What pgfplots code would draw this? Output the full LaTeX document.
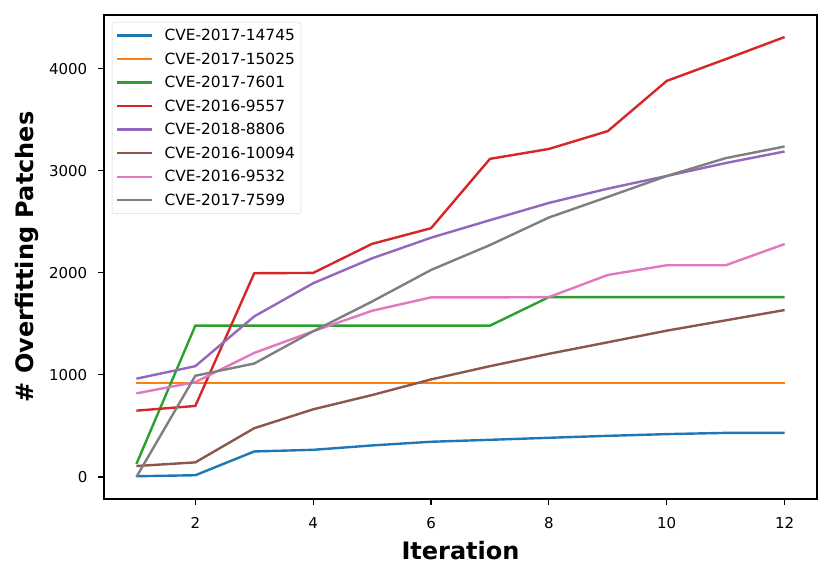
\documentclass[border=0pt]{standalone}
\usepackage{pgfplots}
\pgfplotsset{compat=1.18}
\usepackage{fontspec}
\setmainfont{DejaVu Sans}
\definecolor{c0}{HTML}{1F77B4}
\definecolor{c1}{HTML}{FF7F0E}
\definecolor{c2}{HTML}{2CA02C}
\definecolor{c3}{HTML}{D62728}
\definecolor{c4}{HTML}{9467BD}
\definecolor{c5}{HTML}{8C564B}
\definecolor{c6}{HTML}{E377C2}
\definecolor{c7}{HTML}{7F7F7F}
\begin{document}
\begin{tikzpicture}
\begin{axis}[
  name=ax,
  scale only axis,
  width=713bp, height=484bp,
  xmin=0.45, xmax=12.55,
  ymin=-216, ymax=4528,
  xtick={2,4,6,8,10,12},
  ytick={0,1000,2000,3000,4000},
  scaled ticks=false,
  /pgf/number format/1000 sep={},
  /pgf/number format/assume math mode=true,
  tick align=outside,
  major tick length=5.5bp,
  tick style={line width=1.1bp, black},
  axis line style={line width=1.1bp},
  xtick pos=bottom, ytick pos=left,
  ticklabel style={font=\fontsize{15bp}{18bp}\selectfont},
  xticklabel style={inner sep=0pt, anchor=north, yshift=-13bp},
  yticklabel style={inner sep=0pt, anchor=east, xshift=-11bp},
  xlabel={Iteration},
  ylabel={\# Overfitting Patches},
  label style={font=\fontsize{24bp}{28bp}\selectfont\bfseries},
  x label style={at={(axis description cs:0.5,-0.126)}, anchor=base},
  y label style={at={(axis description cs:-0.0982,0.5)}, anchor=base},
  legend style={at={(0,1)}, anchor=north west, xshift=8bp, yshift=-7bp,
    draw=black!15, rounded corners=2bp, fill=white, fill opacity=0.8, text opacity=1,
    font=\fontsize{15.4bp}{18bp}\selectfont, row sep=6.6bp, column sep=9bp,
    inner xsep=4bp, inner ysep=5bp},
  legend cell align=left,
  legend image code/.code={\draw[#1] (0bp,0bp) -- (35bp,0bp);},
]
\addplot[c0, line width=2.4bp] coordinates {(1,7)(2,17)(3,250)(4,266)(5,309)(6,345)(7,364)(8,384)(9,403)(10,420)(11,432)(12,432)};
\addlegendentry{CVE-2017-14745}
\addplot[c1, line width=2.4bp] coordinates {(1,920)(2,920)(3,920)(4,920)(5,920)(6,920)(7,920)(8,920)(9,920)(10,920)(11,920)(12,920)};
\addlegendentry{CVE-2017-15025}
\addplot[c2, line width=2.4bp] coordinates {(1,127)(2,1483)(3,1483)(4,1483)(5,1483)(6,1483)(7,1483)(8,1763)(9,1763)(10,1763)(11,1763)(12,1763)};
\addlegendentry{CVE-2017-7601}
\addplot[c3, line width=2.4bp] coordinates {(1,650)(2,696)(3,1997)(4,2000)(5,2285)(6,2438)(7,3118)(8,3215)(9,3390)(10,3882)(11,4095)(12,4312)};
\addlegendentry{CVE-2016-9557}
\addplot[c4, line width=2.4bp] coordinates {(1,963)(2,1086)(3,1574)(4,1899)(5,2143)(6,2345)(7,2517)(8,2686)(9,2826)(10,2950)(11,3077)(12,3190)};
\addlegendentry{CVE-2018-8806}
\addplot[c5, line width=2.4bp] coordinates {(1,107)(2,143)(3,478)(4,663)(5,803)(6,956)(7,1086)(8,1207)(9,1320)(10,1434)(11,1535)(12,1636)};
\addlegendentry{CVE-2016-10094}
\addplot[c6, line width=2.4bp] coordinates {(1,819)(2,930)(3,1216)(4,1428)(5,1629)(6,1760)(7,1760)(8,1763)(9,1980)(10,2075)(11,2075)(12,2283)};
\addlegendentry{CVE-2016-9532}
\addplot[c7, line width=2.4bp] coordinates {(1,0)(2,992)(3,1112)(4,1428)(5,1720)(6,2029)(7,2273)(8,2543)(9,2745)(10,2950)(11,3125)(12,3239)};
\addlegendentry{CVE-2017-7599}
\end{axis}
\pgfresetboundingbox
\path ([xshift=-104bp,yshift=-80bp]ax.south west) rectangle ([xshift=13bp,yshift=15bp]ax.north east);
\end{tikzpicture}
\end{document}
